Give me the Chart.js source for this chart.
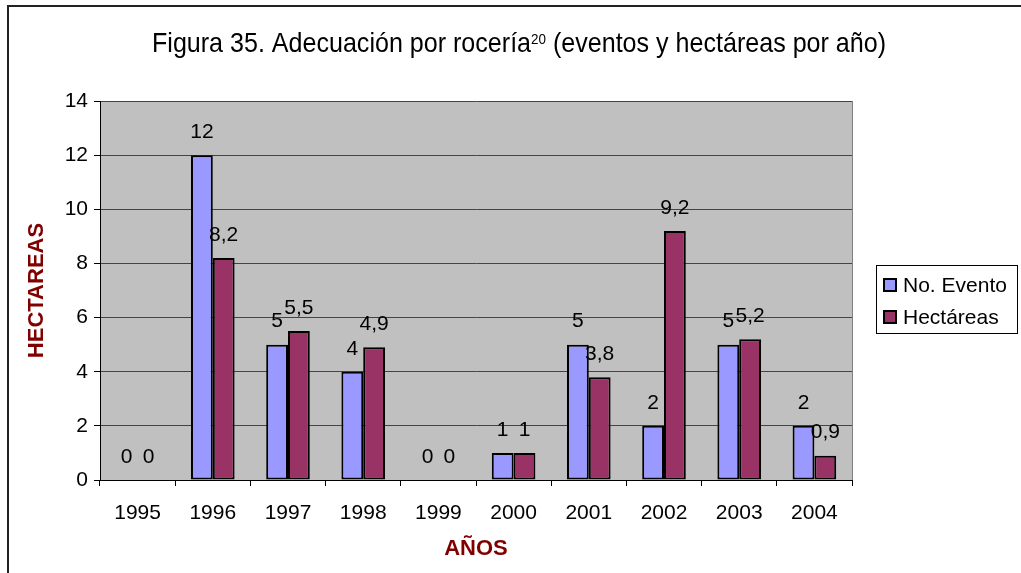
<!DOCTYPE html>
<html>
<head>
<meta charset="utf-8">
<script src="https://cdn.jsdelivr.net/npm/chart.js@4"></script>
<style>
html,body{margin:0;padding:0;background:#fff;}
#wrap{width:1021px;height:573px;position:relative;}
</style>
</head>
<body>
<div id="wrap"><canvas id="c" width="1021" height="573"></canvas></div>
<script>
const categories = ['1995','1996','1997','1998','1999','2000','2001','2002','2003','2004'];
const eventos = [0, 12, 5, 4, 0, 1, 5, 2, 5, 2];
const hectareas = [0, 8.2, 5.5, 4.9, 0, 1, 3.8, 9.2, 5.2, 0.9];
const yTicks = [0, 2, 4, 6, 8, 10, 12, 14];
const seriesNames = ['No. Evento', 'Hectáreas'];
const seriesColors = ['#9999FF', '#993366'];
const titleParts = ['Figura 35. Adecuación por rocería', '20', ' (eventos y hectáreas por año)'];
const yTitle = 'HECTAREAS';
const xTitle = 'AÑOS';

const REG = "'Liberation Sans', Arial, sans-serif";
const TITLE_WIDTH = 734;

const fmt = v => String(v).replace('.', ',');

const decorPlugin = {
  id: 'decor',
  beforeDraw(chart) {
    const ctx = chart.ctx, a = chart.chartArea;
    ctx.save();
    ctx.fillStyle = '#fff';
    ctx.fillRect(0, 0, chart.width, chart.height);
    ctx.strokeStyle = '#222';
    ctx.lineWidth = 2;
    ctx.strokeRect(8, 6, 3000, 3000);
    ctx.fillStyle = '#C0C0C0';
    ctx.fillRect(a.left, a.top, a.right - a.left, a.bottom - a.top);
    ctx.restore();
  },
  afterDraw(chart) {
    const ctx = chart.ctx, a = chart.chartArea;
    ctx.save();
    // plot area right border
    ctx.strokeStyle = '#808080';
    ctx.lineWidth = 1;
    ctx.beginPath();
    ctx.moveTo(Math.round(a.right) + 0.5, a.top);
    ctx.lineTo(Math.round(a.right) + 0.5, a.bottom);
    ctx.stroke();

    // title (condensed face with superscript)
    ctx.fillStyle = '#000';
    const sizes = [28, 15, 28];
    const bases = [52, 44, 52];
    const raw = titleParts.map((t, i) => {
      ctx.font = sizes[i] + 'px ' + REG;
      return ctx.measureText(t).width;
    });
    const sx = TITLE_WIDTH / raw.reduce((s, w) => s + w, 0);
    ctx.save();
    ctx.translate(519 - TITLE_WIDTH / 2, 0);
    ctx.scale(sx, 1);
    ctx.textAlign = 'left';
    ctx.textBaseline = 'alphabetic';
    let tx = 0;
    titleParts.forEach((t, i) => {
      ctx.font = sizes[i] + 'px ' + REG;
      ctx.fillText(t, tx, bases[i]);
      tx += raw[i];
    });
    ctx.restore();

    // data labels
    ctx.fillStyle = '#000';
    ctx.font = '21px ' + REG;
    ctx.textAlign = 'center';
    ctx.textBaseline = 'middle';
    chart.data.datasets.forEach((ds, di) => {
      const meta = chart.getDatasetMeta(di);
      meta.data.forEach((el, i) => {
        ctx.fillText(fmt(ds.data[i]), el.x, el.y - 23);
      });
    });

    // legend
    ctx.fillStyle = '#fff';
    ctx.fillRect(876.5, 265.5, 141, 68);
    ctx.strokeStyle = '#000';
    ctx.lineWidth = 1;
    ctx.strokeRect(876.5, 265.5, 141, 68);
    ctx.textAlign = 'left';
    chart.data.datasets.forEach((ds, di) => {
      const cy = 285 + di * 32;
      ctx.fillStyle = ds.backgroundColor;
      ctx.fillRect(884, cy - 6, 12, 12);
      ctx.strokeStyle = '#000';
      ctx.lineWidth = 2;
      ctx.strokeRect(884, cy - 6, 12, 12);
      ctx.fillStyle = '#000';
      ctx.font = '21px ' + REG;
      ctx.fillText(ds.label, 903, cy + 1);
    });
    ctx.restore();
  }
};

new Chart(document.getElementById('c'), {
  type: 'bar',
  data: {
    labels: categories,
    datasets: [
      { label: seriesNames[0], data: eventos, backgroundColor: seriesColors[0], borderColor: '#000', borderWidth: 2, borderSkipped: false, categoryPercentage: 0.58, barPercentage: 1.0 },
      { label: seriesNames[1], data: hectareas, backgroundColor: seriesColors[1], borderColor: '#000', borderWidth: 2, borderSkipped: false, categoryPercentage: 0.58, barPercentage: 1.0 }
    ]
  },
  options: {
    responsive: false,
    devicePixelRatio: 1,
    animation: false,
    layout: { padding: { left: 8, right: 169, top: 101, bottom: 0 } },
    plugins: {
      legend: { display: false },
      tooltip: { enabled: false },
      title: { display: false }
    },
    scales: {
      x: {
        type: 'category',
        offset: true,
        grid: { display: true, offset: true, drawOnChartArea: false, drawTicks: true, tickLength: 6, tickColor: '#000', color: '#000' },
        border: { display: true, color: '#000', width: 1 },
        ticks: { color: '#000', font: { family: REG, size: 21 }, padding: 15, maxRotation: 0 },
        title: { display: true, text: xTitle, color: '#800000', font: { family: REG, size: 22, weight: 'bold' }, padding: { top: 0, bottom: 10.8 } },
        afterFit(s) { s.height = 93; }
      },
      y: {
        min: 0, max: 14,
        afterBuildTicks(s) { s.ticks = yTicks.map(v => ({ value: v })); },
        grid: { color: '#444', lineWidth: 1, drawTicks: true, tickLength: 6, tickColor: '#000' },
        border: { display: true, color: '#000', width: 1 },
        ticks: { color: '#000', font: { family: REG, size: 21 }, padding: 6 },
        title: { display: true, text: yTitle, color: '#800000', font: { family: REG, size: 22, weight: 'bold' }, padding: { top: 15.8, bottom: 0 } },
        afterFit(s) { s.width = 92; }
      }
    }
  },
  plugins: [decorPlugin]
});
</script>
</body>
</html>
